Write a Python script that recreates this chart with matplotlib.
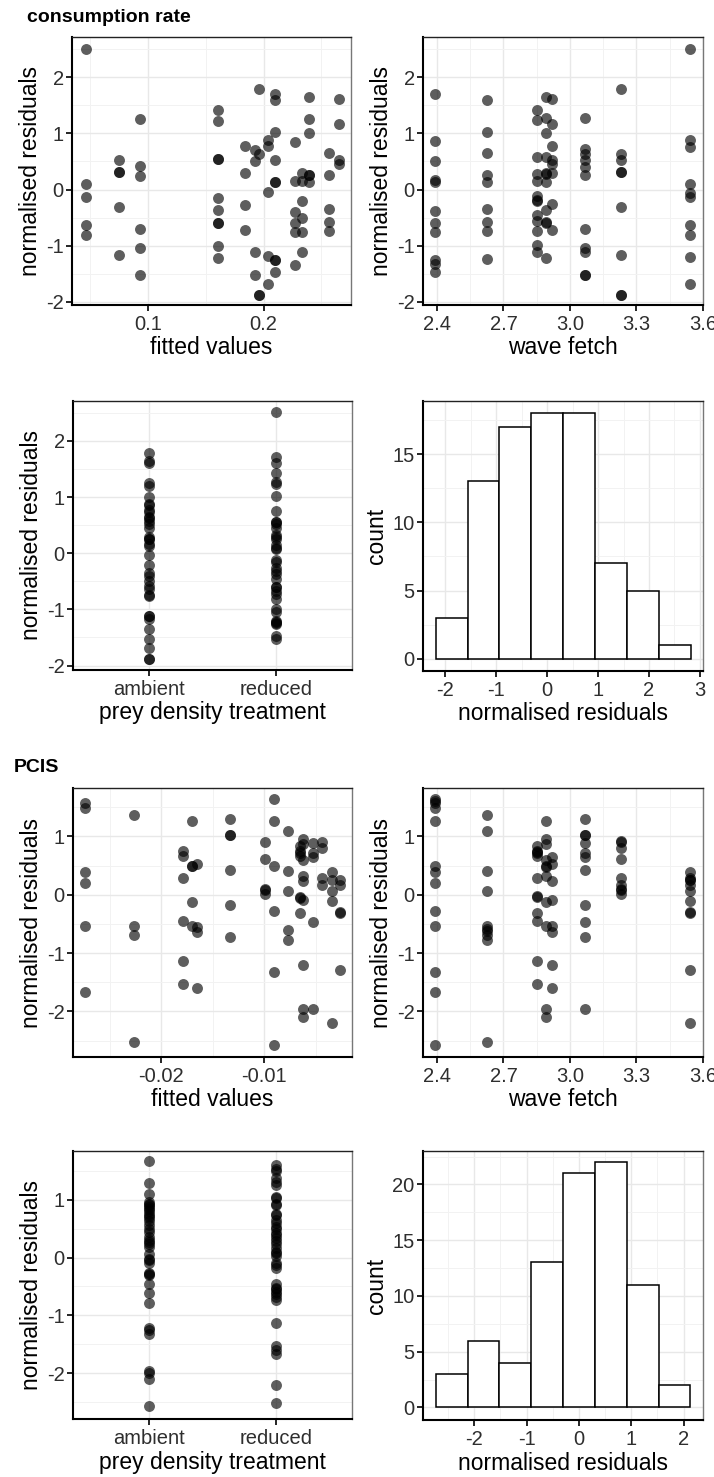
import matplotlib
matplotlib.use('Agg')
import matplotlib.pyplot as plt
from matplotlib.ticker import MultipleLocator, FormatStrFormatter, FixedLocator
import numpy as np

plt.rcParams['font.family'] = ['Liberation Sans', 'DejaVu Sans']
plt.rcParams['axes.unicode_minus'] = False

# ---------------- consumption rate ----------------
cr_fit_cols = [0.0464, 0.0754, 0.0934, 0.1605, 0.184, 0.1928, 0.1957, 0.2037,
               0.2097, 0.2272, 0.2332, 0.2390, 0.2567, 0.2653]
cr_fit_res = [
    [2.51, 0.10, -0.13, -0.63, -0.81],
    [0.52, 0.31, 0.31, -0.32, -1.17],
    [1.26, 0.42, 0.24, -0.71, -1.04, -1.52],
    [1.41, 1.23, 0.55, 0.55, -0.15, -0.37, -0.60, -0.60, -1.00, -1.22],
    [0.77, 0.29, -0.28, -0.73],
    [0.70, 0.50, -1.11, -1.52],
    [1.79, 0.63, -1.88, -1.88],
    [0.88, 0.77, -0.04, -1.19, -1.68],
    [1.71, 1.60, 1.02, 0.52, 0.13, 0.13, -1.25, -1.25, -1.48],
    [0.85, 0.16, -0.40, -0.60, -0.75, -1.35],
    [0.29, 0.16, -0.21, -0.50, -0.75, -1.11],
    [1.65, 1.25, 1.00, 0.26, 0.26, 0.13],
    [0.65, 0.25, -0.35, -0.58, -0.74],
    [1.61, 1.16, 0.52, 0.45],
]

cr_fetch_cols = [2.39, 2.624, 2.849, 2.891, 2.917, 3.067, 3.232, 3.543]
cr_fetch_res = [
    [1.71, 0.86, 0.51, 0.17, 0.13, -0.39, -0.60, -0.76, -1.26, -1.32, -1.48],
    [1.60, 1.02, 0.65, 0.26, 0.13, -0.34, -0.58, -0.74, -1.24],
    [1.42, 1.24, 0.58, 0.28, 0.16, -0.12, -0.18, -0.20, -0.46, -0.56, -0.74, -0.99, -1.11],
    [1.65, 1.27, 1.00, 0.58, 0.29, 0.27, 0.13, -0.37, -0.58, -0.60, -1.22],
    [1.61, 1.16, 0.77, 0.52, 0.45, 0.29, -0.26, -0.73],
    [1.27, 0.73, 0.63, 0.52, 0.40, 0.25, -0.71, -1.04, -1.11, -1.52, -1.52],
    [1.79, 0.63, 0.52, 0.31, 0.31, -0.32, -1.17, -1.88, -1.88],
    [2.51, 0.89, 0.76, 0.10, -0.06, -0.13, -0.63, -0.81, -1.20, -1.68],
]

treat_labels = ['ambient', 'reduced']
cr_ambient = [1.79, 1.65, 1.60, 1.25, 1.19, 1.00, 0.88, 0.85, 0.77, 0.73, 0.65, 0.63,
              0.58, 0.52, 0.45, 0.29, 0.26, 0.25, 0.16, 0.13, -0.04, -0.21, -0.35,
              -0.40, -0.50, -0.58, -0.63, -0.74, -0.76, -1.11, -1.11, -1.17, -1.35,
              -1.52, -1.68, -1.88, -1.88]
cr_reduced = [2.51, 1.71, 1.60, 1.42, 1.26, 1.24, 1.02, 0.76, 0.55, 0.55, 0.52, 0.45,
              0.33, 0.29, 0.26, 0.14, 0.10, 0.08, -0.13, -0.15, -0.26, -0.32, -0.37,
              -0.46, -0.60, -0.60, -0.67, -0.73, -0.81, -0.99, -1.04, -1.20, -1.22,
              -1.25, -1.26, -1.48, -1.52]

cr_hist_counts = [3, 13, 17, 18, 18, 7, 5, 1]
cr_hist_start = -2.191
cr_hist_width = 0.626

# ---------------- PCIS ----------------
pc_fit_cols = [-0.02738, -0.02262, -0.0179, -0.0170, -0.01654, -0.01337, -0.0099,
               -0.00903, -0.00773, -0.0065, -0.00625, -0.00528, -0.0044, -0.00343,
               -0.00269]
pc_fit_res = [
    [1.58, 1.49, 0.39, 0.20, -0.53, -1.67],
    [1.37, -0.54, -0.69, -2.52],
    [0.75, 0.67, 0.28, -0.45, -1.13, -1.53],
    [1.26, 0.49, 0.49, -0.13, -0.54],
    [0.53, -0.56, -0.63, -1.59],
    [1.30, 1.03, 1.03, 0.43, -0.18, -0.73],
    [0.91, 0.61, 0.10, 0.08, 0.02],
    [1.65, 1.26, 0.49, -0.27, -1.33, -2.57],
    [1.10, 0.40, 0.06, -0.60, -0.78],
    [0.83, 0.75, 0.71, 0.66, -0.03, -0.05, -0.31],
    [0.95, 0.87, 0.60, 0.33, 0.23, -0.09, -1.21, -1.96, -2.10],
    [0.89, 0.71, 0.64, -0.46, -1.96],
    [0.90, 0.80, 0.28, 0.17],
    [0.39, 0.26, 0.07, -0.10, -2.20],
    [0.26, 0.17, -0.29, -0.31, -1.29],
]

pc_fetch_cols = [2.39, 2.624, 2.849, 2.891, 2.917, 3.067, 3.232, 3.543]
pc_fetch_res = [
    [1.65, 1.60, 1.58, 1.49, 1.27, 0.49, 0.39, 0.20, -0.27, -0.53, -1.33, -1.67, -2.57],
    [1.37, 1.10, 0.40, 0.06, -0.54, -0.58, -0.62, -0.69, -0.78, -2.52],
    [0.83, 0.75, 0.73, 0.71, 0.67, 0.28, -0.02, -0.04, -0.31, -0.45, -1.13, -1.53],
    [1.26, 0.95, 0.87, 0.60, 0.49, 0.47, 0.33, -0.13, -0.54, -1.96, -2.10],
    [0.64, 0.53, 0.23, -0.09, -0.54, -0.63, -1.21, -1.59],
    [1.30, 1.03, 1.03, 0.89, 0.71, 0.64, 0.43, -0.18, -0.46, -0.73, -1.96],
    [0.93, 0.91, 0.80, 0.61, 0.28, 0.17, 0.10, 0.08, 0.02],
    [0.39, 0.29, 0.26, 0.25, 0.17, 0.07, -0.10, -0.29, -0.31, -1.29, -2.20],
]

pc_ambient = [1.66, 1.28, 1.10, 0.96, 0.93, 0.90, 0.87, 0.84, 0.80, 0.76, 0.71, 0.69,
              0.63, 0.56, 0.49, 0.44, 0.36, 0.30, 0.26, 0.24, 0.18, 0.06, -0.03, -0.05,
              -0.09, -0.26, -0.29, -0.31, -0.46, -0.61, -0.78, -1.21, -1.25, -1.33,
              -1.96, -1.99, -2.10, -2.57]
pc_reduced = [1.60, 1.53, 1.49, 1.37, 1.30, 1.26, 1.05, 1.03, 0.93, 0.91, 0.75, 0.73,
              0.64, 0.60, 0.53, 0.49, 0.43, 0.39, 0.33, 0.28, 0.23, 0.17, 0.10, 0.08,
              0.02, -0.10, -0.13, -0.18, -0.45, -0.53, -0.54, -0.60, -0.63, -0.69,
              -0.73, -1.13, -1.53, -1.59, -1.67, -2.20, -2.52]

pc_hist_counts = [3, 6, 4, 13, 21, 22, 11, 2]
pc_hist_start = -2.736
pc_hist_width = 0.608

# ---------------- layout ----------------
W, H = 714, 1477
fig = plt.figure(figsize=(W / 100, H / 100), dpi=100)
fig.patch.set_facecolor('white')

TICK_FS = 14.5
LAB_FS = 16.5
PT_COLOR = 'black'
PT_ALPHA = 0.63
PT_SIZE = 62


def add_ax(L, R, T, B):
    return fig.add_axes([L / W, 1 - B / H, (R - L) / W, (B - T) / H])


def style(ax, xlab, ylab, xmaj=None, xmin=None, ymaj=None, ymin=None):
    ax.set_facecolor('white')
    ax.set_axisbelow(True)
    if xmaj is not None:
        ax.xaxis.set_major_locator(MultipleLocator(xmaj))
    if xmin is not None:
        ax.xaxis.set_minor_locator(MultipleLocator(xmin))
    if ymaj is not None:
        ax.yaxis.set_major_locator(MultipleLocator(ymaj))
    if ymin is not None:
        ax.yaxis.set_minor_locator(MultipleLocator(ymin))
    ax.grid(True, which='major', color='#e8e8e8', linewidth=1.0)
    ax.grid(True, which='minor', color='#f2f2f2', linewidth=0.7)
    ax.tick_params(which='minor', length=0)
    ax.tick_params(which='major', length=4.5, width=1.2, color='black',
                   labelsize=TICK_FS, labelcolor='#2e2e2e', direction='out')
    ax.tick_params(axis='x', which='major', pad=3)
    ax.tick_params(axis='y', which='major', pad=1.5)
    for s in ['left', 'bottom']:
        ax.spines[s].set_color('black')
        ax.spines[s].set_linewidth(1.5)
    ax.spines['top'].set_color('#222222')
    ax.spines['top'].set_linewidth(1.0)
    ax.spines['right'].set_color('#777777')
    ax.spines['right'].set_linewidth(1.0)
    ax.set_xlabel(xlab, fontsize=LAB_FS, color='black', labelpad=1.5)
    ax.set_ylabel(ylab, fontsize=LAB_FS, color='black', labelpad=3)


def scatter_cols(ax, cols, res):
    xs = np.repeat(cols, [len(r) for r in res])
    ys = np.concatenate([np.asarray(r, float) for r in res])
    ax.scatter(xs, ys, s=PT_SIZE, color=PT_COLOR, alpha=PT_ALPHA, linewidths=0, zorder=3)


def strip(ax, groups):
    for i, g in enumerate(groups):
        ax.scatter(np.full(len(g), i + 1), g, s=PT_SIZE, color=PT_COLOR,
                   alpha=PT_ALPHA, linewidths=0, zorder=3)
    ax.xaxis.set_major_locator(FixedLocator([1, 2]))
    ax.set_xticklabels(treat_labels)


def hist(ax, counts, start, width):
    edges = start + width * np.arange(len(counts))
    ax.bar(edges, counts, width=width, align='edge', facecolor='white',
           edgecolor='black', linewidth=1.1, zorder=3)


# Row 1
ax1 = add_ax(72, 351, 37, 305)
scatter_cols(ax1, cr_fit_cols, cr_fit_res)
ax1.set_xlim(0.0345, 0.2755)
ax1.set_ylim(-2.06, 2.72)
style(ax1, 'fitted values', 'normalised residuals', 0.1, 0.05, 1, 0.5)
ax1.xaxis.set_major_formatter(FormatStrFormatter('%.1f'))

ax2 = add_ax(423, 703, 37, 305)
scatter_cols(ax2, cr_fetch_cols, cr_fetch_res)
ax2.set_xlim(2.337, 3.60)
ax2.set_ylim(-2.06, 2.72)
style(ax2, 'wave fetch', 'normalised residuals', 0.3, 0.15, 1, 0.5)
ax2.xaxis.set_major_formatter(FormatStrFormatter('%.1f'))

# Row 2
ax3 = add_ax(73, 352, 401, 670)
strip(ax3, [cr_ambient, cr_reduced])
ax3.set_xlim(0.4, 2.6)
ax3.set_ylim(-2.08, 2.71)
style(ax3, 'prey density treatment', 'normalised residuals', None, None, 1, 0.5)

ax4 = add_ax(423, 703, 401, 671)
hist(ax4, cr_hist_counts, cr_hist_start, cr_hist_width)
ax4.set_xlim(-2.44, 3.06)
ax4.set_ylim(-0.9, 18.9)
style(ax4, 'normalised residuals', 'count', 1, 0.5, 5, 2.5)

# Row 3
ax5 = add_ax(73, 352, 788, 1057)
scatter_cols(ax5, pc_fit_cols, pc_fit_res)
ax5.set_xlim(-0.02857, -0.00149)
ax5.set_ylim(-2.78, 1.83)
style(ax5, 'fitted values', 'normalised residuals', 0.01, 0.005, 1, 0.5)
ax5.xaxis.set_major_formatter(FormatStrFormatter('%.2f'))

ax6 = add_ax(423, 703, 788, 1057)
scatter_cols(ax6, pc_fetch_cols, pc_fetch_res)
ax6.set_xlim(2.337, 3.60)
ax6.set_ylim(-2.78, 1.83)
style(ax6, 'wave fetch', 'normalised residuals', 0.3, 0.15, 1, 0.5)
ax6.xaxis.set_major_formatter(FormatStrFormatter('%.1f'))

# Row 4
ax7 = add_ax(73, 352, 1151, 1419)
strip(ax7, [pc_ambient, pc_reduced])
ax7.set_xlim(0.4, 2.6)
ax7.set_ylim(-2.79, 1.84)
style(ax7, 'prey density treatment', 'normalised residuals', None, None, 1, 0.5)

ax8 = add_ax(423, 703, 1151, 1420)
hist(ax8, pc_hist_counts, pc_hist_start, pc_hist_width)
ax8.set_xlim(-2.98, 2.37)
ax8.set_ylim(-1.13, 23.0)
style(ax8, 'normalised residuals', 'count', 1, 0.5, 5, 2.5)

# section titles
fig.text(27 / W, 1 - 18 / H, 'consumption rate', fontsize=14, fontweight='bold',
         ha='left', va='center')
fig.text(14 / W, 1 - 768 / H, 'PCIS', fontsize=14, fontweight='bold',
         ha='left', va='center')

fig.savefig('out.png', dpi=100, facecolor='white')
